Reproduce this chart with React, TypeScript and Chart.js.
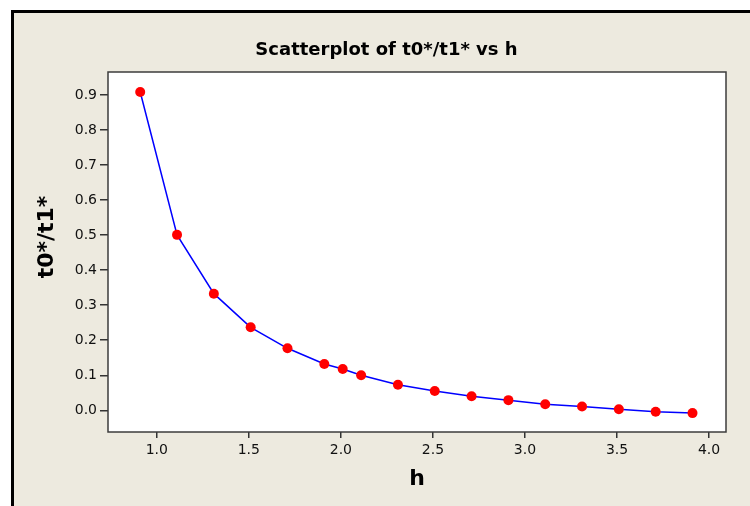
import { useEffect, useRef } from "react";
import { Chart, registerables } from "chart.js";

Chart.register(...registerables);

// h values and the t0*/t1* ratio at each one
const hValues = [0.91, 1.11, 1.31, 1.51, 1.71, 1.91, 2.01, 2.11, 2.31, 2.51, 2.71, 2.91, 3.11, 3.31, 3.51, 3.71, 3.91];
const ratioValues = [0.909, 0.501, 0.333, 0.237, 0.177, 0.132, 0.118, 0.1, 0.073, 0.055, 0.04, 0.029, 0.017, 0.011, 0.003, -0.004, -0.008];

// axis ticks
const xTicks = [1.0, 1.5, 2.0, 2.5, 3.0, 3.5, 4.0];
const yTicks = [0.0, 0.1, 0.2, 0.3, 0.4, 0.5, 0.6, 0.7, 0.8, 0.9];

const titleText = "Scatterplot of t0*/t1* vs h";
const xLabel = "h";
const yLabel = "t0*/t1*";

const W = 750;
const H = 506;
const PANEL = "#EDEADF";
const INK = "#111111";
const FONT = "'DejaVu Sans', Verdana, sans-serif";

// Panel background, black frame, white plot region and the text around it
const framePlugin = {
  id: "minitabFrame",
  beforeDraw(chart: any) {
    const { ctx, chartArea } = chart;
    ctx.save();
    ctx.fillStyle = "#ffffff";
    ctx.fillRect(0, 0, W, H);
    ctx.fillStyle = PANEL;
    ctx.fillRect(11, 10, W - 11, H - 10);
    ctx.fillStyle = "#000000";
    ctx.fillRect(11, 10, 3, H - 10);
    ctx.fillRect(11, 10, W - 11, 3);
    ctx.fillStyle = "#ffffff";
    ctx.fillRect(chartArea.left, chartArea.top, chartArea.right - chartArea.left, chartArea.bottom - chartArea.top);
    ctx.restore();
  },
  afterDraw(chart: any) {
    const { ctx, chartArea } = chart;
    ctx.save();
    ctx.strokeStyle = "#3c3c3c";
    ctx.lineWidth = 1.5;
    ctx.strokeRect(chartArea.left, chartArea.top, chartArea.right - chartArea.left, chartArea.bottom - chartArea.top);

    ctx.fillStyle = "#000000";
    ctx.textAlign = "center";
    ctx.textBaseline = "alphabetic";
    ctx.font = `bold 18px ${FONT}`;
    ctx.fillText(titleText, 386.5, 55);

    ctx.font = `bold 22px ${FONT}`;
    ctx.fillText(xLabel, (chartArea.left + chartArea.right) / 2, 485);

    ctx.translate(53, 237);
    ctx.rotate(-Math.PI / 2);
    ctx.fillText(yLabel, 0, 0);
    ctx.restore();
  },
};

export default function App() {
  const canvasRef = useRef<HTMLCanvasElement | null>(null);

  useEffect(() => {
    if (!canvasRef.current) return;
    const chart = new Chart(canvasRef.current, {
      type: "scatter",
      data: {
        datasets: [
          {
            data: hValues.map((h, i) => ({ x: h, y: ratioValues[i] })),
            showLine: true,
            borderColor: "#0000ff",
            borderWidth: 1.5,
            pointBackgroundColor: "#ff0000",
            pointBorderColor: "#ff0000",
            pointBorderWidth: 0,
            pointRadius: 5,
            tension: 0,
          },
        ],
      },
      options: {
        responsive: false,
        animation: false,
        devicePixelRatio: 1,
        layout: { padding: { left: 0, top: 72, right: 24, bottom: 0 } },
        plugins: {
          legend: { display: false },
          tooltip: { enabled: false },
          title: { display: false },
        },
        scales: {
          x: {
            type: "linear",
            min: 0.735,
            max: 4.092,
            afterFit: (scale: any) => {
              scale.height = 74;
            },
            afterBuildTicks: (scale: any) => {
              scale.ticks = xTicks.map((v) => ({ value: v }));
            },
            border: { display: false },
            grid: {
              drawOnChartArea: false,
              drawTicks: true,
              tickLength: 6,
              tickColor: "#333333",
              lineWidth: 1.5,
            },
            ticks: {
              color: INK,
              font: { family: FONT, size: 14 },
              padding: 4,
              maxRotation: 0,
              callback: (v: any) => Number(v).toFixed(1),
            },
          },
          y: {
            type: "linear",
            min: -0.062,
            max: 0.966,
            afterFit: (scale: any) => {
              scale.width = 108;
            },
            afterBuildTicks: (scale: any) => {
              scale.ticks = yTicks.map((v) => ({ value: v }));
            },
            border: { display: false },
            grid: {
              drawOnChartArea: false,
              drawTicks: true,
              tickLength: 8,
              tickColor: "#333333",
              lineWidth: 1.5,
            },
            ticks: {
              color: INK,
              font: { family: FONT, size: 14 },
              padding: 3,
              callback: (v: any) => Number(v).toFixed(1),
            },
          },
        },
      },
      plugins: [framePlugin],
    });
    return () => chart.destroy();
  }, []);

  return (
    <div style={{ position: "fixed", left: 0, top: 0, width: W, height: H }}>
      <canvas ref={canvasRef} width={W} height={H} style={{ width: W, height: H, display: "block" }} />
    </div>
  );
}
